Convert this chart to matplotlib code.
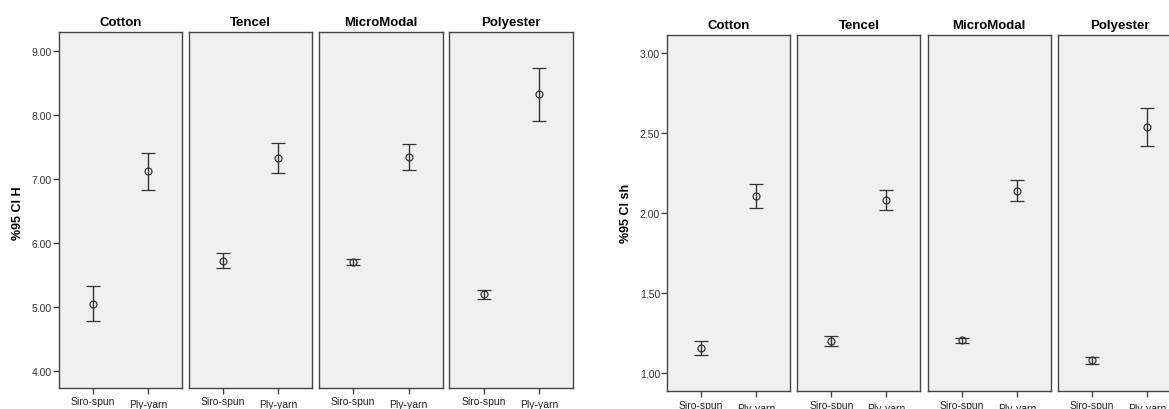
import matplotlib
matplotlib.use("Agg")
import matplotlib.pyplot as plt
import matplotlib.transforms as mtransforms

plt.rcParams['font.family'] = ['Liberation Sans', 'DejaVu Sans']

fibers = ["Cotton", "Tencel", "MicroModal", "Polyester"]
methods = ["Siro-spun", "Ply-yarn"]

# Left chart: H
h_mean = [[5.05, 7.12], [5.72, 7.33], [5.70, 7.34], [5.20, 8.32]]
h_low = [[4.78, 6.83], [5.605, 7.09], [5.66, 7.145], [5.12, 7.90]]
h_high = [[5.33, 7.41], [5.84, 7.56], [5.745, 7.54], [5.27, 8.735]]
h_ticks = [4.00, 5.00, 6.00, 7.00, 8.00, 9.00]

# Right chart: sh
sh_mean = [[1.156, 2.105], [1.202, 2.08], [1.204, 2.138], [1.081, 2.536]]
sh_low = [[1.114, 2.03], [1.169, 2.016], [1.187, 2.072], [1.058, 2.417]]
sh_high = [[1.20, 2.178], [1.233, 2.144], [1.22, 2.205], [1.10, 2.654]]
sh_ticks = [1.00, 1.50, 2.00, 2.50, 3.00]

W, H = 1169, 410
fig = plt.figure(figsize=(W / 100, H / 100), dpi=100)

def px_axes(x0, x1, ytop, ybot):
    return fig.add_axes([x0 / W, 1 - ybot / H, (x1 - x0) / W, (ybot - ytop) / H])

def draw_chart(xs, ytop, ybot, ylim, ticks, means, lows, highs, ylabel, ylabel_x):
    for i, (x0, x1) in enumerate(xs):
        ax = px_axes(x0, x1, ytop, ybot)
        ax.set_facecolor('#f0f0f0')
        for s in ax.spines.values():
            s.set_color('#444444')
            s.set_linewidth(1.0)
        m = means[i]
        lo = [m[k] - lows[i][k] for k in range(2)]
        hi = [highs[i][k] - m[k] for k in range(2)]
        ax.errorbar([0, 1], m, yerr=[lo, hi], fmt='o', mfc='none', mec='#333333',
                    ms=5, mew=0.9, ecolor='#333333', elinewidth=1.0, capsize=5,
                    capthick=1.0)
        ax.set_xlim(-0.616, 1.616)
        ax.set_ylim(*ylim)
        ax.set_xticks([0, 1])
        ax.set_xticklabels(methods, fontsize=7.5, color='#222222')
        ax.tick_params(axis='x', length=4, width=1, color='#444444', pad=2)
        # Ply-yarn label sits slightly lower
        lbl = ax.get_xticklabels()[1]
        off = mtransforms.ScaledTranslation(0, -3 / 100, fig.dpi_scale_trans)
        lbl.set_transform(lbl.get_transform() + off)
        if i == 0:
            ax.set_yticks(ticks)
            ax.set_yticklabels([f"{t:.2f}" for t in ticks], fontsize=7.5, color='#333333')
            ax.tick_params(axis='y', length=4, width=1, color='#444444', pad=1)
        else:
            ax.set_yticks([])
        ax.set_title(fibers[i], fontsize=9.5, fontweight='bold', pad=5)
    fig.text(ylabel_x / W, 1 - 213 / H, ylabel, rotation=90, fontsize=9,
             fontweight='bold', ha='center', va='center')

left_x = [(58.7, 182), (189.3, 312), (319, 442.7), (449.3, 573.3)]
right_x = [(667, 790.3), (797.3, 920.5), (927.7, 1050.7), (1058, 1181)]

draw_chart(left_x, 33, 389, (3.74, 9.29), h_ticks, h_mean, h_low, h_high, "%95 CI H", 18)
draw_chart(right_x, 36, 392.3, (0.886, 3.11), sh_ticks, sh_mean, sh_low, sh_high, "%95 CI sh", 626)

fig.savefig("out.png", dpi=100)
